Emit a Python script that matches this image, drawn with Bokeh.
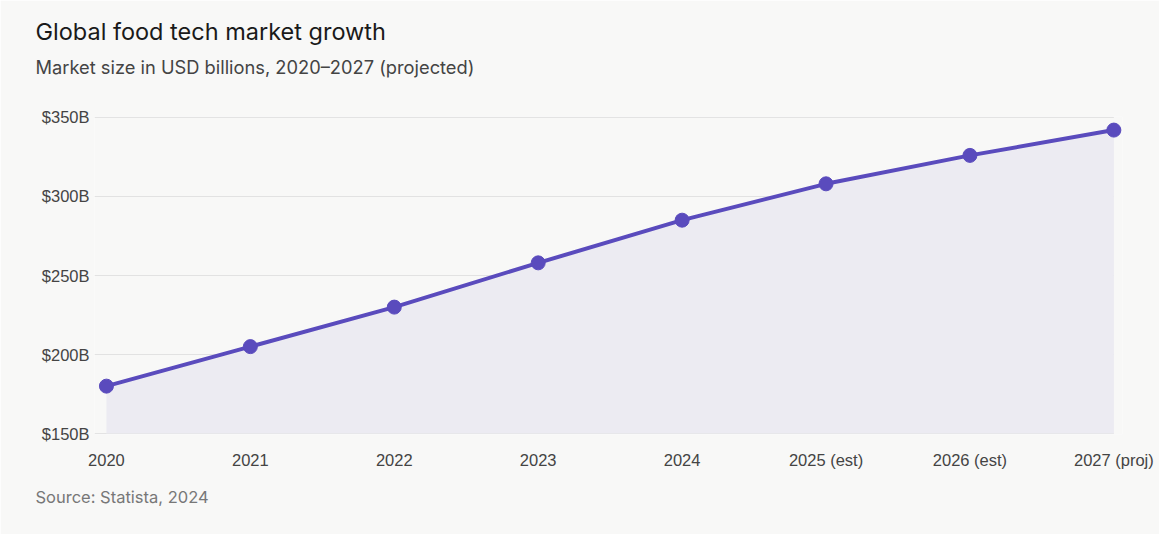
from bokeh.plotting import figure
from bokeh.models import Range1d, FixedTicker, Title
from bokeh.embed import file_html
from bokeh.resources import INLINE

years = ["2020", "2021", "2022", "2023", "2024", "2025 (est)", "2026 (est)", "2027 (proj)"]
market_size = [180, 205, 230, 258, 285, 308, 326, 342]
y_ticks = [150, 200, 250, 300, 350]
y_tick_labels = ["$150B", "$200B", "$250B", "$300B", "$350B"]

xs = list(range(len(years)))
BG = "#f8f8f7"
PURPLE = "#5a4bbd"
X_START = -0.083
X_END = len(years) - 1

p = figure(width=1159, height=534, output_backend="svg", toolbar_location=None,
           x_range=Range1d(X_START, X_END + 0.06), y_range=Range1d(149.4, 350.6),
           min_border_left=94, min_border_right=37, min_border_top=116, min_border_bottom=100,
           background_fill_color=BG, border_fill_color=BG, outline_line_color=None,
           title="Global food tech market growth")

p.title.align = "left"
p.title.offset = -59
p.title.text_font = "Inter"
p.title.text_font_size = "23.5px"
p.title.text_font_style = "normal"
p.title.text_color = "#1a1a1a"

# empty spacer between the frame and the subtitle
p.add_layout(Title(text=" ", align="left", standoff=22, text_font_size="10px"), "above")
p.add_layout(Title(text="Market size in USD billions, 2020–2027 (projected)", align="left",
                   offset=-59, standoff=7, text_font="Inter",
                   text_font_size="18.3px", text_font_style="normal", text_color="#444444"),
             "above")
p.add_layout(Title(text="Source: Statista, 2024", align="left", offset=-59, standoff=26,
                   text_font="Inter", text_font_size="16.5px", text_font_style="normal",
                   text_color="#777777"), "below")

# horizontal grid lines ending at the last category
p.segment(x0=[X_START] * len(y_ticks), x1=[X_END] * len(y_ticks), y0=y_ticks, y1=y_ticks,
          line_color="#e2e2e2", line_width=1)

p.varea(x=xs, y1=[150] * len(xs), y2=market_size, fill_color="#ecebf2", fill_alpha=1.0)
p.line(x=xs, y=market_size, line_color=PURPLE, line_width=4)
p.scatter(x=xs, y=market_size, size=14, fill_color=PURPLE, line_color=PURPLE)

p.xgrid.grid_line_color = None
p.ygrid.grid_line_color = None

p.xaxis.ticker = FixedTicker(ticks=xs)
p.xaxis.major_label_overrides = {i: t for i, t in enumerate(years)}
p.yaxis.ticker = FixedTicker(ticks=y_ticks)
p.yaxis.major_label_overrides = {v: t for v, t in zip(y_ticks, y_tick_labels)}

for ax in (p.xaxis, p.yaxis):
    ax.axis_line_color = None
    ax.major_tick_line_color = None
    ax.minor_tick_line_color = None
    ax.major_tick_out = 0
    ax.major_tick_in = 0
    ax.major_label_text_font = "Liberation Sans"
    ax.major_label_text_font_size = "16.5px"
    ax.major_label_text_color = "#444444"
p.xaxis.major_label_standoff = 16
p.yaxis.major_label_standoff = 5

open("out.html", "w").write(file_html(p, INLINE))
